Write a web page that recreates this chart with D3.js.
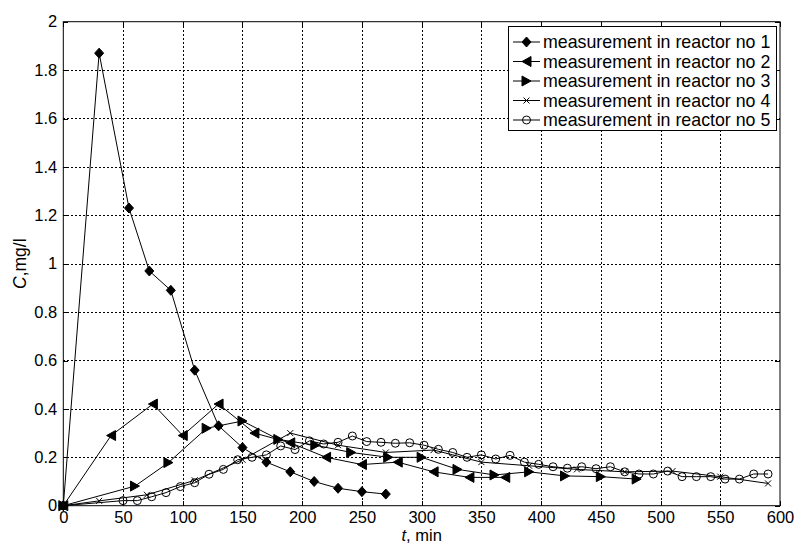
<!DOCTYPE html>
<html><head><meta charset="utf-8">
<script src="https://cdn.jsdelivr.net/npm/d3@7"></script>
<style>body{margin:0;background:#fff}svg{display:block}</style>
</head><body><svg id="c" width="796" height="544"></svg>
<script>
const t1=[0,30,55,72,90,110,130,150,170,190,210,230,250,270];
const c1=[0,1.87,1.23,0.97,0.89,0.56,0.33,0.24,0.18,0.14,0.10,0.072,0.058,0.048];
const t2=[0,40,75,100,130,160,190,220,250,280,310,340,370];
const c2=[0,0.29,0.42,0.29,0.42,0.30,0.26,0.20,0.17,0.18,0.14,0.117,0.117];
const t3=[0,60,88,120,150,180,211,241,272,300,330,361,390,420,450,480];
const c3=[0,0.081,0.178,0.32,0.35,0.274,0.25,0.22,0.20,0.20,0.15,0.127,0.14,0.123,0.12,0.11];
const t4=[0,30,70,110,150,190,230,270,310,350,390,430,470,510,550,590];
const c4=[0,0.02,0.045,0.105,0.19,0.30,0.25,0.22,0.23,0.18,0.165,0.15,0.14,0.143,0.12,0.092];
const t5=[0,50,62,74,86,98,110,122,134,146,158,170,182,194,206,218,230,242,254,266,278,290,302,314,326,338,350,362,374,386,398,410,422,434,446,458,470,482,494,506,518,530,542,554,566,578,590];
const c5=[0,0.021,0.021,0.037,0.054,0.079,0.095,0.13,0.15,0.19,0.20,0.21,0.247,0.232,0.268,0.255,0.262,0.288,0.265,0.262,0.258,0.26,0.25,0.233,0.22,0.20,0.21,0.193,0.208,0.18,0.171,0.161,0.155,0.161,0.153,0.161,0.14,0.131,0.131,0.143,0.12,0.12,0.12,0.11,0.11,0.131,0.131];
const seriesNames=["measurement in reactor no 1","measurement in reactor no 2","measurement in reactor no 3","measurement in reactor no 4","measurement in reactor no 5"];
const xTicks=[0,50,100,150,200,250,300,350,400,450,500,550,600];
const yTicks=[0,0.2,0.4,0.6,0.8,1,1.2,1.4,1.6,1.8,2];

const svg=d3.select("#c");
const L=63.3,R=780,T=21.7,B=505.7;
const x=d3.scaleLinear().domain([0,600]).range([L,R]);
const y=d3.scaleLinear().domain([0,2]).range([B,T]);
const font="Liberation Sans, Arial, Helvetica, sans-serif";

svg.append("rect").attr("width",796).attr("height",544).attr("fill","#fff");

// grid
const g=svg.append("g").attr("stroke","#000").attr("stroke-width",1).attr("stroke-dasharray","2,2").attr("shape-rendering","crispEdges");
xTicks.slice(1,-1).forEach(v=>g.append("line").attr("x1",Math.round(x(v))+0.5).attr("x2",Math.round(x(v))+0.5).attr("y1",T).attr("y2",B));
yTicks.slice(1,-1).forEach(v=>g.append("line").attr("y1",Math.round(y(v))+0.5).attr("y2",Math.round(y(v))+0.5).attr("x1",L).attr("x2",R));

// axes
function styleAxis(sel,labels){
  sel.select(".domain").remove();
  sel.selectAll("line").attr("stroke","#000").attr("shape-rendering","crispEdges");
  sel.selectAll("text").attr("font-family",font).attr("font-size",16.5).attr("fill","#000");
  if(!labels) sel.selectAll("text").remove();
}
const fmt=d=>String(+d.toFixed(1));
svg.append("g").attr("transform",`translate(0,${B})`).call(d3.axisBottom(x).tickValues(xTicks).tickSize(-5).tickPadding(6).tickFormat(d=>d)).call(s=>styleAxis(s,true));
svg.append("g").attr("transform",`translate(0,${T})`).call(d3.axisTop(x).tickValues(xTicks).tickSize(-5)).call(s=>styleAxis(s,false));
svg.append("g").attr("transform",`translate(${L},0)`).call(d3.axisLeft(y).tickValues(yTicks).tickSize(-5).tickPadding(6).tickFormat(fmt)).call(s=>styleAxis(s,true));
svg.append("g").attr("transform",`translate(${R},0)`).call(d3.axisRight(y).tickValues(yTicks).tickSize(-5)).call(s=>styleAxis(s,false));
svg.append("rect").attr("x",L).attr("y",T).attr("width",R-L).attr("height",B-T).attr("fill","none").attr("stroke","#000").attr("stroke-width",1);

// markers
function marker(sel,type){
  if(type==="diamond") sel.append("path").attr("d","M0,-5L4.5,0L0,5L-4.5,0Z").attr("fill","#000").attr("stroke","#000");
  else if(type==="left") sel.append("path").attr("d","M-4.5,0L4.5,-5L4.5,5Z").attr("fill","#000").attr("stroke","#000");
  else if(type==="right") sel.append("path").attr("d","M4.5,0L-4.5,-5L-4.5,5Z").attr("fill","#000").attr("stroke","#000");
  else if(type==="x") sel.append("path").attr("d","M-3,-3L3,3M-3,3L3,-3").attr("fill","none").attr("stroke","#000");
  else if(type==="circle") sel.append("circle").attr("r",4).attr("fill","none").attr("stroke","#000");
}
const series=[[t1,c1,"diamond"],[t2,c2,"left"],[t3,c3,"right"],[t4,c4,"x"],[t5,c5,"circle"]];
const line=d3.line().x(d=>x(d[0])).y(d=>y(d[1]));
series.forEach(([ts,cs,m])=>{
  const pts=ts.map((t,i)=>[t,cs[i]]);
  svg.append("path").datum(pts).attr("d",line).attr("fill","none").attr("stroke","#000").attr("stroke-width",1);
  pts.forEach(p=>{const gg=svg.append("g").attr("transform",`translate(${x(p[0])},${y(p[1])})`);marker(gg,m);});
});

// labels
svg.append("text").attr("x",(L+R)/2).attr("y",541).attr("text-anchor","middle").attr("font-family",font).attr("font-size",16.5)
  .html('<tspan font-style="italic">t</tspan>, min');
svg.append("text").attr("transform",`translate(26,${(T+B)/2}) rotate(-90)`).attr("text-anchor","middle").attr("font-family",font).attr("font-size",17.5)
  .html('<tspan font-style="italic">C</tspan>,mg/l');

// legend
const lg=svg.append("g");
lg.append("rect").attr("x",508.5).attr("y",26.5).attr("width",268).attr("height",104).attr("fill","#fff").attr("stroke","#000");
series.forEach(([ts,cs,m],i)=>{
  const yy=42+i*19.5;
  lg.append("line").attr("x1",513).attr("x2",540).attr("y1",yy).attr("y2",yy).attr("stroke","#000");
  const gg=lg.append("g").attr("transform",`translate(526.5,${yy})`);marker(gg,m);
  lg.append("text").attr("x",543).attr("y",yy+6.3).attr("font-family",font).attr("font-size",17.8).text(seriesNames[i]);
});
</script></body></html>
